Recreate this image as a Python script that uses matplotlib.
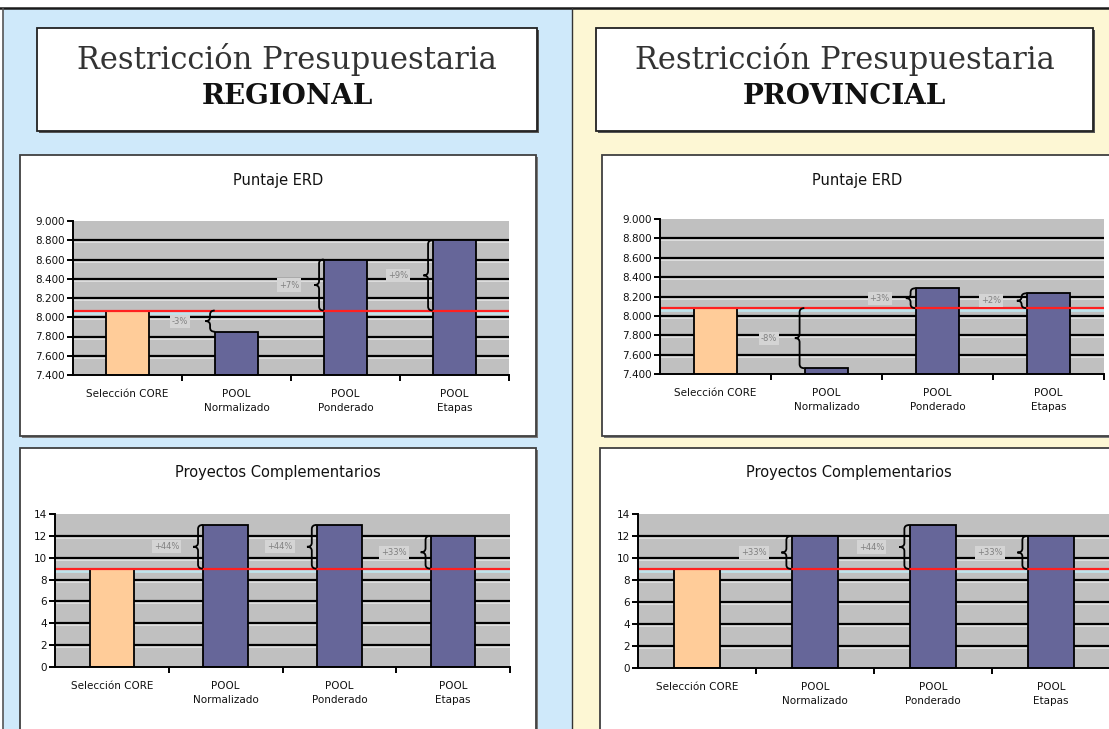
import matplotlib
matplotlib.use('Agg')
import matplotlib.pyplot as plt
from matplotlib.patches import Rectangle, PathPatch
from matplotlib.path import Path
from matplotlib.transforms import offset_copy

W, H = 1109, 729

categories = ['Selección CORE', 'POOL\nNormalizado', 'POOL\nPonderado', 'POOL\nEtapas']

# Puntaje ERD
erd_regional = [8070, 7850, 8600, 8800]
erd_regional_pct = ['-3%', '+7%', '+9%']
erd_provincial = [8080, 7460, 8285, 8233]
erd_provincial_pct = ['-8%', '+3%', '+2%']
erd_ticks = [7400, 7600, 7800, 8000, 8200, 8400, 8600, 8800, 9000]

# Proyectos Complementarios
proy_regional = [9, 13, 13, 12]
proy_regional_pct = ['+44%', '+44%', '+33%']
proy_provincial = [9, 12, 13, 12]
proy_provincial_pct = ['+33%', '+44%', '+33%']
proy_ticks = [0, 2, 4, 6, 8, 10, 12, 14]

ORANGE = '#ffcc99'
BLUE = '#666699'
PLOT_GREY = '#c0c0c0'
SANS = 'DejaVu Sans'


def fx(x):
    return x / W


def fy(y):
    return 1 - y / H


def fig_rect(fig, x0, y0, x1, y1, **kw):
    # rectangle given in pixel coordinates (top-left origin)
    r = Rectangle((fx(x0), fy(y1)), fx(x1) - fx(x0), fy(y0) - fy(y1),
                  transform=fig.transFigure, **kw)
    fig.patches.append(r)
    return r


def add_plot(fig, x0, y0, x1, y1):
    ax = fig.add_axes([fx(x0), fy(y1), fx(x1) - fx(x0), fy(y0) - fy(y1)])
    ax.set_zorder(2)
    return ax


def fmt_thousands(v):
    if v >= 1000:
        return '{:,}'.format(v).replace(',', '.')
    return str(v)


def brace(ax, xr, ya, yb, w, r_px=4):
    # curly brace opening to the right, tip pointing left
    top, bot = max(ya, yb), min(ya, yb)
    ymin, ymax = ax.get_ylim()
    h_px = ax.get_window_extent().height
    r = (ymax - ymin) * r_px / h_px
    span = top - bot
    r = min(r, span / 4)
    ym = (top + bot) / 2
    xm = xr - w / 2
    xl = xr - w
    verts = [(xr, top), (xm, top), (xm, top - r),
             (xm, ym + r),
             (xm, ym), (xl, ym),
             (xm, ym), (xm, ym - r),
             (xm, bot + r),
             (xm, bot), (xr, bot)]
    codes = [Path.MOVETO, Path.CURVE3, Path.CURVE3,
             Path.LINETO,
             Path.CURVE3, Path.CURVE3,
             Path.CURVE3, Path.CURVE3,
             Path.LINETO,
             Path.CURVE3, Path.CURVE3]
    ax.add_patch(PathPatch(Path(verts, codes), facecolor='none',
                           edgecolor='black', lw=1.3, zorder=5))
    return ym


def draw_chart(fig, box, plot, title, values, pcts, ticks):
    bx0, by0, bx1, by1 = box
    fig_rect(fig, bx0 + 2, by0 + 2, bx1 + 2, by1 + 2, facecolor='#7a7a7a',
             edgecolor='none', zorder=0.4)
    fig_rect(fig, bx0, by0, bx1, by1, facecolor='white', edgecolor='#404040',
             lw=1.3, zorder=0.5)
    tx = (bx0 + bx1) / 2 if bx1 < W else (plot[0] + plot[2]) / 2 - 25
    fig.text(fx(tx), fy(by0 + 25), title, ha='center', va='center',
             fontsize=10.5, family=SANS, color='#111111')

    ax = add_plot(fig, *plot)
    ax.set_facecolor(PLOT_GREY)
    ax.set_xlim(-0.5, 3.5)
    ax.set_ylim(ticks[0], ticks[-1])

    # gridlines with a light edge underneath
    hl = offset_copy(ax.get_yaxis_transform(), fig=fig, y=-2, units='dots')
    for t in ticks[1:-1]:
        ax.axhline(t, color='black', lw=1.6, zorder=1)
        ax.plot([0, 1], [t, t], color='#e4e4e4', lw=1.2, zorder=0.9,
                transform=hl)

    colors = [ORANGE] + [BLUE] * (len(values) - 1)
    bw = 0.39
    ax.bar(range(len(values)), values, width=bw, color=colors,
           edgecolor='black', lw=1.3, zorder=2)

    # reference level: first category
    core = values[0]
    ax.plot([0, 1], [core, core], color='#bfe4ec', lw=2.0, zorder=1.5,
            transform=hl)
    ax.axhline(core, color='#ff2020', lw=1.6, zorder=4)

    for i, (v, p) in enumerate(zip(values[1:], pcts), start=1):
        ym = brace(ax, i - bw / 2 - 0.005, core, v, 0.085)
        ax.text(i - 0.52, ym, p, ha='center', va='center', fontsize=6,
                color='#808080', family=SANS, zorder=6,
                bbox=dict(boxstyle='square,pad=0.25', facecolor='#d4d4d4',
                          edgecolor='none'))

    for s in ('top', 'right'):
        ax.spines[s].set_visible(False)
    for s in ('left', 'bottom'):
        ax.spines[s].set_linewidth(1.4)
        ax.spines[s].set_zorder(7)

    ax.set_yticks(ticks)
    ax.set_yticklabels([fmt_thousands(t) for t in ticks], fontsize=7.5,
                       family=SANS, color='#111111')
    ax.tick_params(axis='y', direction='out', length=4, width=1.4, pad=2)

    ax.set_xticks([0.5, 1.5, 2.5, 3.5])
    ax.set_xticklabels([])
    ax.tick_params(axis='x', which='major', direction='out', length=4,
                   width=1.4)
    ax.set_xticks(range(len(categories)), minor=True)
    ax.set_xticklabels(categories, minor=True, fontsize=7.5, family=SANS,
                       linespacing=1.55, va='top', color='#111111')
    ax.tick_params(axis='x', which='minor', length=0, pad=10)
    return ax


fig = plt.figure(figsize=(W / 100, H / 100), dpi=100)
fig.patch.set_facecolor('white')

# background panels
fig_rect(fig, 3, 8, 572, H + 5, facecolor='#cfe9fa', edgecolor='none', zorder=0)
fig_rect(fig, 572, 8, W + 5, H + 5, facecolor='#fdf7d4', edgecolor='none',
         zorder=0)
fig.add_artist(plt.Line2D([fx(0), fx(W)], [fy(8), fy(8)], color='#1a1a1a',
                          lw=1.8, transform=fig.transFigure))
fig.add_artist(plt.Line2D([fx(3), fx(3)], [fy(8), fy(H)], color='#555555',
                          lw=1.2, transform=fig.transFigure))
fig.add_artist(plt.Line2D([fx(572), fx(572)], [fy(8), fy(H)],
                          color='#333333', lw=1.0, transform=fig.transFigure))

# header boxes
for (x0, x1, word) in [(37, 537, 'REGIONAL'), (596, 1093, 'PROVINCIAL')]:
    fig_rect(fig, x0 + 2, 30, x1 + 2, 133, facecolor='#555555',
             edgecolor='none', zorder=0.4)
    fig_rect(fig, x0, 28, x1, 131, facecolor='white', edgecolor='#222222',
             lw=1.3, zorder=0.5)
    cx = (x0 + x1) / 2
    fig.text(fx(cx), fy(60), 'Restricción Presupuestaria', ha='center',
             va='center', fontsize=22, family='DejaVu Serif',
             color='#333333')
    fig.text(fx(cx), fy(97), word, ha='center', va='center', fontsize=20,
             family='DejaVu Serif', weight='bold', color='#111111')

draw_chart(fig, (20, 155, 536, 436), (73, 221, 509, 375), 'Puntaje ERD',
           erd_regional, erd_regional_pct, erd_ticks)
draw_chart(fig, (20, 448, 536, 731), (55, 514, 510, 667),
           'Proyectos Complementarios', proy_regional, proy_regional_pct,
           proy_ticks)
draw_chart(fig, (602, 155, 1125, 436), (660, 219, 1104, 374), 'Puntaje ERD',
           erd_provincial, erd_provincial_pct, erd_ticks)
draw_chart(fig, (600, 448, 1125, 731), (638, 514, 1110, 668),
           'Proyectos Complementarios', proy_provincial, proy_provincial_pct,
           proy_ticks)

fig.savefig('out.png', dpi=100)
